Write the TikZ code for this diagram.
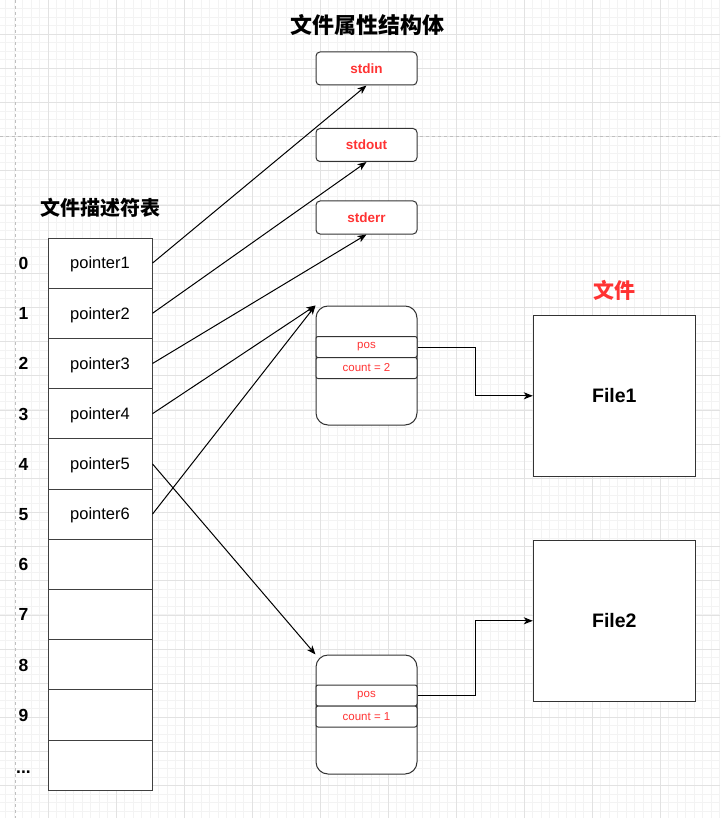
\documentclass[tikz,border=0pt]{standalone}
\usepackage{fontspec}
\setmainfont{Liberation Sans}
\newfontfamily\cjk{Noto Sans CJK SC}
\usepackage{tikz}
\usetikzlibrary{arrows.meta}
\definecolor{attrred}{HTML}{FF3333}
\definecolor{gridminor}{HTML}{F3F3F3}
\definecolor{gridmajor}{HTML}{E2E2E2}

\begin{document}
\begin{tikzpicture}[x=1pt,y=-1pt,>={Stealth[length=9pt,width=7pt,inset=2.5pt]},
    fdcell/.style={shape=rectangle,draw=black!75,line width=1pt,fill=white,minimum width=104pt,minimum height=50.2pt,inner sep=0pt,text height=11.5pt,text depth=0pt,font=\fontsize{16.5}{19}\selectfont},
    fdindex/.style={inner sep=0pt,text height=12.7pt,text depth=0pt,font=\fontsize{17.5}{21}\selectfont\bfseries},
    stdbox/.style={shape=rectangle,draw=black!80,line width=1pt,fill=white,rounded corners=4pt,minimum width=101pt,minimum height=33pt,inner sep=0pt,text=attrred,font=\fontsize{13.5}{16}\selectfont\bfseries},
    structbox/.style={shape=rectangle,draw=black!80,line width=1pt,fill=white,rounded corners=12pt,minimum width=101pt,minimum height=119pt,inner sep=0pt},
    fieldrow/.style={shape=rectangle,draw=black!80,line width=1pt,fill=white,rounded corners=2pt,minimum width=101pt,minimum height=21pt,inner sep=0pt,text=attrred,font=\fontsize{11.5}{13}\selectfont},
    filebox/.style={shape=rectangle,draw=black!80,line width=1pt,fill=white,minimum width=162pt,minimum height=161pt,inner sep=0pt,font=\fontsize{19.5}{23}\selectfont\bfseries},
    heading/.style={inner sep=0pt,font=\cjk\bfseries\fontsize{22}{26}\selectfont}]
        % background grid
        \fill[white] (0,0) rectangle (720,818);
        \useasboundingbox (0,0) rectangle (720,818);
        \foreach \k in {0,...,84} \draw[gridminor,line width=1pt] (5.8+8.5*\k,0) -- (5.8+8.5*\k,818);
        \foreach \k in {0,...,96} \draw[gridminor,line width=1pt] (0,8.54*\k) -- (720,8.54*\k);
        \foreach \k in {0,...,9} \draw[gridmajor,line width=1pt] (48.3+68*\k,0) -- (48.3+68*\k,818);
        \foreach \k in {1,...,23} \draw[gridmajor,line width=1pt] (0,34.17*\k) -- (720,34.17*\k);
        \draw[black!25,dashed,line width=1pt] (15,0) -- (15,818);
        \draw[black!25,dashed,line width=1pt] (0,136.7) -- (720,136.7);

        % headings
        \node[heading] (attrtitle) at (367,25) {文件属性结构体};
        \node[heading,font=\cjk\bfseries\fontsize{20}{24}\selectfont] (fdtitle) at (100,208) {文件描述符表};
        \node[heading,text=attrred,font=\cjk\bfseries\fontsize{21}{25}\selectfont] (filetitle) at (614.5,290) {文件};

        % descriptor table
        \foreach \i/\t in {0/pointer1,1/pointer2,2/pointer3,3/pointer4,4/pointer5,5/pointer6,6/{},7/{},8/{},9/{},10/{}}
            \node[fdcell] (p\i) at (100,263.1+50.2*\i) {\t};
        \foreach \i/\l in {0/0,1/1,2/2,3/3,4/4,5/5,6/6,7/7,8/8,9/9}
            \node[fdindex] (i\i) at (23.5,263.1+50.2*\i) {\l};
        \node[fdindex] (i10) at (23.5,767) {...};

        % attribute structures
        \node[stdbox] (stdin) at (366.5,68.5) {stdin};
        \node[stdbox] (stdout) at (366.5,145) {stdout};
        \node[stdbox] (stderr) at (366.5,217.5) {stderr};
        \node[structbox] (sa) at (366.5,365.5) {};
        \node[fieldrow] (posa) at (366.5,347) {pos};
        \node[fieldrow] (counta) at (366.5,368) {count = 2};
        \node[structbox] (sb) at (366.5,714.5) {};
        \node[fieldrow] (posb) at (366.5,695.5) {pos};
        \node[fieldrow] (countb) at (366.5,716.5) {count = 1};

        % files
        \node[filebox] (file1) at (614.3,395.8) {File1};
        \node[filebox] (file2) at (614.3,620.8) {File2};

        \path [->,line width=1pt] (p0.east) edge (stdin.south);
        \path [->,line width=1pt] (p1.east) edge (stdout.south);
        \path [->,line width=1pt] (p2.east) edge (stderr.south);
        \path [->,line width=1pt] (p3.east) edge (sa.north west);
        \path [->,line width=1pt] (p5.east) edge (sa.north west);
        \path [->,line width=1pt] (p4.east) edge (sb.north west);
        \draw [->,line width=1pt] (posa.east) -- ++(58,0) |- (file1.west);
        \draw [->,line width=1pt] (posb.east) -- ++(58,0) |- (file2.west);
    \end{tikzpicture}
\end{document}
